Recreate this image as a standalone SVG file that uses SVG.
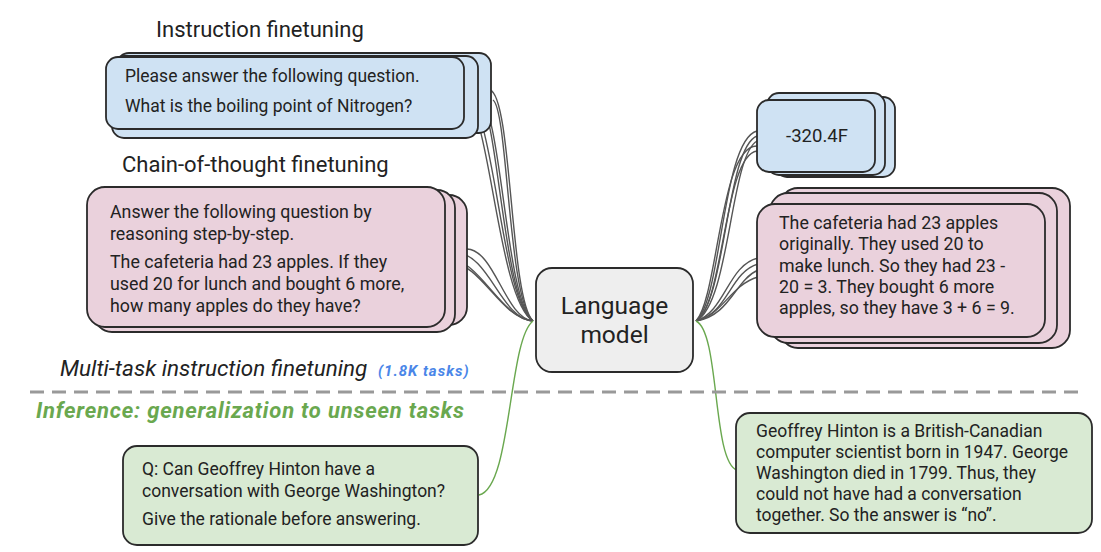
<svg xmlns="http://www.w3.org/2000/svg" width="1101" height="552" viewBox="0 0 1101 552">
<style>
text{font-family:Roboto,"Liberation Sans",sans-serif;fill:#222;}
.t16{font-size:17.5px;}
.p16{font-size:17.8px;}
.title{font-size:22px;}
.box{stroke:#2b2b2b;stroke-width:1.8;}
.blue{fill:#cfe2f3;}
.pink{fill:#ead1dc;}
.green{fill:#d9ead3;}
.gray{fill:#eeeeee;}
.conn{fill:none;stroke:#555;stroke-width:1.4;}
.gconn{fill:none;stroke:#6aa84f;stroke-width:1.4;}
</style>
<rect width="1101" height="552" fill="#fff"/>

<text class="title" x="156" y="37">Instruction finetuning</text>
<text class="title" x="122" y="172">Chain-of-thought finetuning</text>

<g id="connectors">
  <path class="conn" d="M490,90 C512,96 510,300 533,321"/>
  <path class="conn" d="M493,100 C508,110 508,300 533,321"/>
  <path class="conn" d="M478,96 C502,105 505,300 533,321"/>
  <path class="conn" d="M480,102 C498,112 503,300 533,321"/>
  <path class="conn" d="M463,92 C495,98 500,300 533,321"/>
  <path class="conn" d="M465,99 C490,108 498,300 533,321"/>
  <path class="conn" d="M467,249 C495,250 505,318 533,321"/>
  <path class="conn" d="M455,252 C490,254 500,318 533,321"/>
  <path class="conn" d="M445,257 C480,258 500,318 533,321"/>
  <path class="conn" d="M450,262 C482,264 500,318 533,321"/>
  <path class="conn" d="M696,321 C722,300 722,140 757,131"/>
  <path class="conn" d="M696,321 C726,302 726,148 757,136"/>
  <path class="conn" d="M696,321 C730,304 730,156 757,141"/>
  <path class="conn" d="M696,321 C718,298 720,145 757,146"/>
  <path class="conn" d="M696,321 C724,305 724,155 757,151"/>
  <path class="conn" d="M696,321 C725,312 728,265 758,258"/>
  <path class="conn" d="M696,321 C728,314 730,272 758,264"/>
  <path class="conn" d="M696,321 C730,316 735,280 758,270"/>
  <path class="conn" d="M696,321 C722,316 730,285 758,277"/>
  <path class="gconn" d="M533,321 C508,340 512,488 479,495"/>
  <path class="gconn" d="M696,321 C720,332 712,462 737,470"/>
</g>

<g id="instruction-box">
  <rect class="box blue" x="117" y="53" width="374" height="80" rx="12"/>
  <rect class="box blue" x="112" y="56" width="366" height="82" rx="12"/>
  <rect class="box blue" x="106" y="57" width="358" height="72" rx="12"/>
  <text class="t16" x="125" y="82">Please answer the following question.</text>
  <text class="t16" x="125" y="112">What is the boiling point of Nitrogen?</text>
</g>

<g id="cot-box">
  <rect class="box pink" x="100" y="195" width="367" height="130" rx="18"/>
  <rect class="box pink" x="94" y="190" width="361" height="142" rx="18"/>
  <rect class="box pink" x="87" y="187" width="358" height="140" rx="18"/>
  <text class="p16" x="110" y="218">Answer the following question by</text>
  <text class="p16" x="110" y="240">reasoning step-by-step.</text>
  <text class="p16" x="110" y="268">The cafeteria had 23 apples. If they</text>
  <text class="p16" x="110" y="290">used 20 for lunch and bought 6 more,</text>
  <text class="p16" x="110" y="312">how many apples do they have?</text>
</g>

<g id="language-model">
  <rect class="box gray" x="536" y="268" width="157" height="104" rx="16"/>
  <text x="614.5" y="314" font-size="24.5" text-anchor="middle">Language</text>
  <text x="614.5" y="343" font-size="24.5" text-anchor="middle">model</text>
</g>

<g id="answer-box">
  <rect class="box blue" x="775" y="97" width="120" height="80" rx="12"/>
  <rect class="box blue" x="767" y="93" width="118" height="82" rx="12"/>
  <rect class="box blue" x="757" y="100" width="118" height="72" rx="12"/>
  <text x="817" y="142" font-size="18.5" text-anchor="middle">-320.4F</text>
</g>

<g id="cot-answer-box">
  <rect class="box pink" x="780" y="188" width="290" height="160" rx="18"/>
  <rect class="box pink" x="770" y="193" width="287" height="150" rx="18"/>
  <rect class="box pink" x="757" y="204" width="288" height="133" rx="18"/>
  <text class="p16" x="779" y="229">The cafeteria had 23 apples</text>
  <text class="p16" x="779" y="250">originally. They used 20 to</text>
  <text class="p16" x="779" y="272">make lunch. So they had 23 -</text>
  <text class="p16" x="779" y="293">20 = 3. They bought 6 more</text>
  <text class="p16" x="779" y="314">apples, so they have 3 + 6 = 9.</text>
</g>

<g id="divider">
  <text x="60" y="376" font-size="22.5" font-style="italic">Multi-task instruction finetuning</text>
  <text x="378" y="376" font-size="15" font-style="italic" font-weight="bold" letter-spacing="1" style="fill:#4a86e8">(1.8K tasks)</text>
  <line x1="30" y1="392" x2="1086" y2="392" stroke="#999" stroke-width="3" stroke-dasharray="14 8"/>
  <text x="36" y="418" font-size="22" font-style="italic" font-weight="bold" letter-spacing="0.8" style="fill:#6aa84f">Inference: generalization to unseen tasks</text>
</g>

<g id="inference-question">
  <rect class="box green" x="123" y="446" width="355" height="99" rx="14"/>
  <text class="t16" x="142" y="475">Q: Can Geoffrey Hinton have a</text>
  <text class="t16" x="142" y="497">conversation with George Washington?</text>
  <text class="t16" x="142" y="525">Give the rationale before answering.</text>
</g>

<g id="inference-answer">
  <rect class="box green" x="736" y="413" width="356" height="120" rx="14"/>
  <text class="t16" x="756" y="437">Geoffrey Hinton is a British-Canadian</text>
  <text class="t16" x="756" y="458">computer scientist born in 1947. George</text>
  <text class="t16" x="756" y="479">Washington died in 1799. Thus, they</text>
  <text class="t16" x="756" y="500">could not have had a conversation</text>
  <text class="t16" x="756" y="521">together. So the answer is “no”.</text>
</g>
</svg>
